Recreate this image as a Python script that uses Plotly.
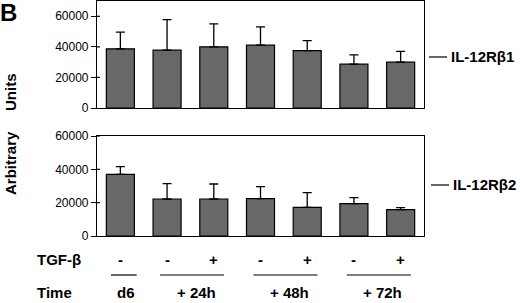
import plotly.graph_objects as go

# data
categories = ["d6", "24h-", "24h+", "48h-", "48h+", "72h-", "72h+"]
r1_values = [38700, 37800, 40000, 41100, 37600, 28700, 30000]
r1_errors = [11000, 20000, 15000, 12000, 6500, 6100, 7000]
r2_values = [37000, 22200, 22200, 22400, 17200, 19400, 15800]
r2_errors = [4600, 9200, 9000, 7200, 8800, 3600, 1200]
tgf_signs = ["-", "-", "+", "-", "+", "-", "+"]
time_labels = ["d6", "+ 24h", "+ 48h", "+ 72h"]
time_groups = [[0], [1, 2], [3, 4], [5, 6]]
panel_labels = ["IL-12Rβ1", "IL-12Rβ2"]
yticks_vals = [0, 20000, 40000, 60000]

W, H = 520, 303
FONT = "Liberation Sans, Arial, sans-serif"
BAR = "#686868"

def py(px):
    return 1 - px / H

x = list(range(len(categories)))

fig = go.Figure()
for vals, errs, xa, ya in [(r1_values, r1_errors, "x", "y"), (r2_values, r2_errors, "x2", "y2")]:
    fig.add_trace(go.Bar(
        x=x, y=vals, xaxis=xa, yaxis=ya, width=0.6,
        marker=dict(color=BAR, line=dict(color="black", width=1.2)),
        error_y=dict(type="data", array=errs, arrayminus=[0]*len(errs), symmetric=False,
                     color="black", thickness=1.3, width=4.5),
        showlegend=False,
    ))

xdom = [97 / W, 424 / W]
axis_common = dict(showline=True, linecolor="black", linewidth=1.2, mirror=True,
                   showgrid=False, zeroline=False, automargin=False)
ytick_common = dict(tickvals=yticks_vals, tickformat="d", ticks="outside", ticklen=5,
                    tickwidth=1.2, tickcolor="black", tickfont=dict(size=12, family=FONT))
fig.update_layout(
    width=W, height=H, margin=dict(l=0, r=0, t=0, b=0, pad=0, autoexpand=False),
    paper_bgcolor="white", plot_bgcolor="white", bargap=0.4,
    font=dict(family=FONT, color="black"),
    xaxis=dict(domain=xdom, range=[-0.5, 6.5], showticklabels=False, ticks="",
               anchor="y", **axis_common),
    yaxis=dict(domain=[py(108), py(1)], range=[0, 70000], anchor="x",
               **ytick_common, **axis_common),
    xaxis2=dict(domain=xdom, range=[-0.5, 6.5], showticklabels=False, ticks="",
                anchor="y2", **axis_common),
    yaxis2=dict(domain=[py(236), py(136)], range=[0, 60000], anchor="x2",
                **ytick_common, **axis_common),
)

ann = []
shapes = []
# small inner tick stubs (ticks cross the axis in the reference)
for xa, ya in [("x", "y"), ("x2", "y2")]:
    for v in yticks_vals[1:]:
        shapes.append(dict(type="line", xref="%s domain" % xa, yref=ya, x0=0, x1=3 / 327,
                           y0=v, y1=v, line=dict(color="black", width=1.2)))
# panel letter
ann.append(dict(x=-2 / W, y=py(-3), xref="paper", yref="paper", text="<b>B</b>", showarrow=False,
                xanchor="left", yanchor="top", font=dict(size=24, family=FONT)))
# y title (two words, wide gap)
ann.append(dict(x=10 / W, y=py(163), xref="paper", yref="paper", text="<b>Arbitrary</b>",
                showarrow=False, textangle=-90, xanchor="center", yanchor="middle",
                font=dict(size=15, family=FONT)))
ann.append(dict(x=10 / W, y=py(92), xref="paper", yref="paper", text="<b>Units</b>",
                showarrow=False, textangle=-90, xanchor="center", yanchor="middle",
                font=dict(size=15, family=FONT)))
# right-side labels with dash
for lab, ypx, x0 in [(panel_labels[0], 57, 429), (panel_labels[1], 185, 431)]:
    shapes.append(dict(type="line", xref="paper", yref="paper", x0=x0 / W, x1=(x0 + 18) / W,
                       y0=py(ypx), y1=py(ypx), line=dict(color="black", width=1.2)))
    ann.append(dict(x=(x0 + 20) / W, y=py(ypx), xref="paper", yref="paper", text="<b>%s</b>" % lab,
                    showarrow=False, xanchor="left", yanchor="middle", font=dict(size=15, family=FONT)))
# TGF-beta row
ann.append(dict(x=35 / W, y=py(259), xref="paper", yref="paper", text="<b>TGF-β</b>", showarrow=False,
                xanchor="left", yanchor="middle", font=dict(size=15, family=FONT)))
for i, s in enumerate(tgf_signs):
    ann.append(dict(x=i, y=py(259), xref="x2", yref="paper", text="<b>%s</b>" % s, showarrow=False,
                    xanchor="center", yanchor="middle", font=dict(size=15, family=FONT)))
# Time row
ann.append(dict(x=35 / W, y=0, xref="paper", yref="paper", text="<b>Time</b>", showarrow=False,
                xanchor="left", yanchor="bottom", font=dict(size=15, family=FONT)))
for lab, grp in zip(time_labels, time_groups):
    c = (grp[0] + grp[-1]) / 2
    ann.append(dict(x=c + 0.12, y=0, xref="x2", yref="paper", text="<b>%s</b>" % lab,
                    showarrow=False, xanchor="center", yanchor="bottom", font=dict(size=15, family=FONT)))
    if len(grp) == 1:
        x0, x1 = grp[0] - 0.2, grp[0] + 0.35
    else:
        x0, x1 = grp[0] - 0.15, grp[-1] + 0.22
    shapes.append(dict(type="line", xref="x2", yref="paper", x0=x0, x1=x1, y0=py(275), y1=py(275),
                       line=dict(color="black", width=1.2)))

fig.update_layout(annotations=ann, shapes=shapes)
fig.write_html("out.html", config={"displayModeBar": False},
               post_script="document.body.style.margin='0';document.body.style.overflow='hidden';")
